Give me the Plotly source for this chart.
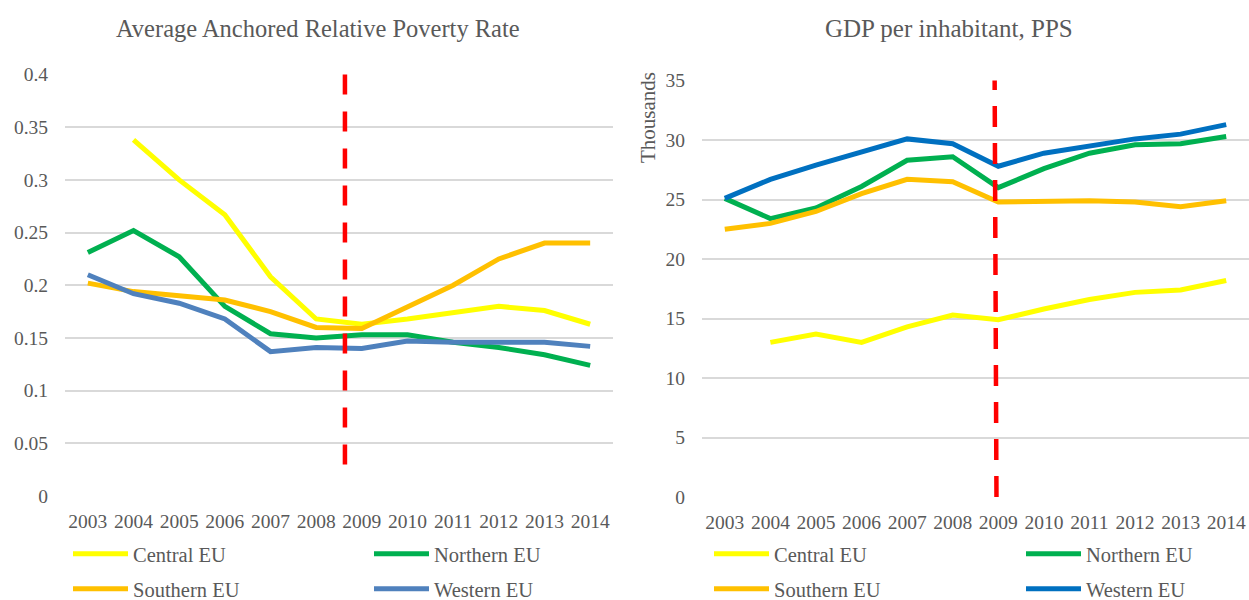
import plotly.graph_objects as go

# ---- data -------------------------------------------------------------
years = ["2003", "2004", "2005", "2006", "2007", "2008",
         "2009", "2010", "2011", "2012", "2013", "2014"]
regions = ["Central EU", "Northern EU", "Southern EU", "Western EU"]

# Average anchored relative poverty rate
poverty_central = [None, 0.338, 0.300, 0.267, 0.208, 0.168, 0.163, 0.168, 0.174, 0.180, 0.176, 0.163]
poverty_northern = [0.231, 0.252, 0.227, 0.180, 0.154, 0.150, 0.153, 0.153, 0.146, 0.141, 0.134, 0.124]
poverty_southern = [0.202, 0.194, 0.190, 0.186, 0.175, 0.160, 0.159, 0.180, 0.200, 0.225, 0.240, 0.240]
poverty_western = [0.210, 0.192, 0.183, 0.168, 0.137, 0.141, 0.140, 0.147, 0.146, 0.146, 0.146, 0.142]

# GDP per inhabitant, PPS (thousands)
gdp_central = [None, 13.0, 13.7, 13.0, 14.3, 15.3, 14.9, 15.8, 16.6, 17.2, 17.4, 18.2]
gdp_northern = [25.1, 23.4, 24.3, 26.1, 28.3, 28.6, 26.0, 27.6, 28.9, 29.6, 29.7, 30.3]
gdp_southern = [22.5, 23.0, 24.0, 25.5, 26.7, 26.5, 24.8, 24.9, 24.9, 24.8, 24.4, 24.9]
gdp_western = [25.1, 26.7, 27.9, 29.0, 30.1, 29.7, 27.8, 28.9, 29.5, 30.1, 30.5, 31.3]

poverty_ticks = [0, 0.05, 0.1, 0.15, 0.2, 0.25, 0.3, 0.35, 0.4]
poverty_ticktext = ["0", "0.05", "0.1", "0.15", "0.2", "0.25", "0.3", "0.35", "0.4"]
gdp_ticks = [0, 5, 10, 15, 20, 25, 30, 35]
gdp_ticktext = ["0", "5", "10", "15", "20", "25", "30", "35"]

# crisis marker (category index between 2008 and 2009) and its vertical extent
crisis_left_x = 5.63
crisis_left_y = (0.4, 0.028)
crisis_right_x = (5.96, 5.92)
crisis_right_y = (0.0, 35.0)

# ---- styling ----------------------------------------------------------
FONT = "Liberation Serif"
TEXT = "#595959"
GRID = "#D9D9D9"
left_colors = ["#FFFF00", "#00B050", "#FFC000", "#4F81BD"]
right_colors = ["#FFFF00", "#00B050", "#FFC000", "#0070C0"]
LW = 5

W, H = 1249, 600
ML, MR, MT, MB = 65, 0, 74, 103
PW, PH = W - ML - MR, H - MT - MB


def px_x(p):
    return (p - ML) / PW


def px_y(p):
    return (H - MB - p) / PH


fig = go.Figure()

left_series = [poverty_central, poverty_northern, poverty_southern, poverty_western]
right_series = [gdp_central, gdp_northern, gdp_southern, gdp_western]

for i, (name, vals) in enumerate(zip(regions, left_series)):
    fig.add_trace(go.Scatter(
        x=years, y=vals, name=name, mode="lines",
        line=dict(color=left_colors[i], width=LW),
        xaxis="x", yaxis="y", legend="legend" if i == 0 else f"legend{i + 1}",
        connectgaps=False, showlegend=True,
    ))

for i, (name, vals) in enumerate(zip(regions, right_series)):
    fig.add_trace(go.Scatter(
        x=years, y=vals, name=name, mode="lines",
        line=dict(color=right_colors[i], width=LW),
        xaxis="x2", yaxis="y2", legend=f"legend{i + 5}",
        connectgaps=False, showlegend=True,
    ))

# dashed crisis markers
fig.add_shape(type="line", xref="x", yref="y",
              x0=crisis_left_x, x1=crisis_left_x,
              y0=crisis_left_y[0], y1=crisis_left_y[1],
              line=dict(color="#FF0000", width=4.5, dash="20px,17px"))
fig.add_shape(type="line", xref="x2", yref="y2",
              x0=crisis_right_x[0], x1=crisis_right_x[1],
              y0=crisis_right_y[0], y1=crisis_right_y[1],
              line=dict(color="#FF0000", width=4.5, dash="21px,16px"))

tickfont = dict(family=FONT, size=19.5, color=TEXT)
axis_common = dict(type="category", range=[-0.5, len(years) - 0.5],
                   showgrid=False, showline=False, zeroline=False,
                   ticks="", tickfont=tickfont, ticklabelstandoff=11, fixedrange=True)
yaxis_common = dict(showgrid=True, gridcolor=GRID, gridwidth=2, showline=False,
                    zeroline=False, ticks="", tickfont=tickfont, ticklabelstandoff=16,
                    fixedrange=True)

left_dom = [0, px_x(613)]
right_dom = [px_x(702), 1.0]

fig.update_layout(
    width=W, height=H,
    margin=dict(l=ML, r=MR, t=MT, b=MB, autoexpand=False),
    paper_bgcolor="white", plot_bgcolor="white",
    font=dict(family=FONT, color=TEXT),
    showlegend=True,
    xaxis=dict(domain=left_dom, anchor="y", **axis_common),
    yaxis=dict(domain=[px_y(496), 1.0], anchor="x", range=[0, 0.4005],
               tickvals=poverty_ticks, ticktext=poverty_ticktext, **yaxis_common),
    xaxis2=dict(domain=right_dom, anchor="y2", **axis_common),
    yaxis2=dict(domain=[0.0, px_y(80)], anchor="x2", range=[0, 35.05],
                tickvals=gdp_ticks, ticktext=gdp_ticktext, **yaxis_common),
)

# legends: one entry each, laid out in a 2x2 grid under each chart
SWATCH = 55
leg_font = dict(family=FONT, size=20.5, color=TEXT)
text_x = [133, 434, 133, 434, 774, 1086, 774, 1086]
row_y = [554, 554, 589, 589, 554, 554, 589, 589]
for k in range(8):
    key = "legend" if k == 0 else f"legend{k + 1}"
    fig.update_layout(**{key: dict(
        x=px_x(text_x[k] - SWATCH - 10), y=px_y(row_y[k]),
        xanchor="left", yanchor="middle",
        bgcolor="rgba(0,0,0,0)", font=leg_font, itemwidth=SWATCH,
        orientation="v",
    )})

# chart titles and unit label
fig.add_annotation(text="Average Anchored Relative Poverty Rate", xref="paper", yref="paper",
                   x=px_x(318), y=px_y(28), showarrow=False, xanchor="center", yanchor="middle",
                   font=dict(family=FONT, size=24.5, color=TEXT))
fig.add_annotation(text="GDP per inhabitant, PPS", xref="paper", yref="paper",
                   x=px_x(949), y=px_y(28), showarrow=False, xanchor="center", yanchor="middle",
                   font=dict(family=FONT, size=25, color=TEXT))
fig.add_annotation(text="Thousands", xref="paper", yref="paper", textangle=-90,
                   x=px_x(648), y=px_y(118), showarrow=False, xanchor="center", yanchor="middle",
                   font=dict(family=FONT, size=21, color=TEXT))

fig.write_html("out.html", config={"displayModeBar": False})
